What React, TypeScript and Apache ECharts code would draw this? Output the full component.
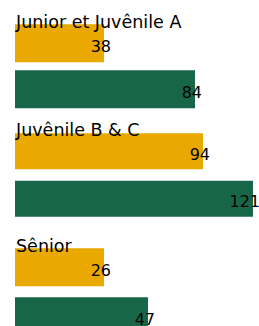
import React, { useEffect, useRef } from "react";
import * as echarts from "echarts";

// Group names (one per pair of bars)
const categories = ["Junior et Juvênile A", "Juvênile B & C", "Sênior"];
// Values printed on the bars
const yellowLabels = [38, 94, 26];
const greenLabels = [84, 121, 47];
// Bar lengths as drawn in the reference (same scale for every bar, axis max 240)
const yellowLengths = [89, 188, 89];
const greenLengths = [180, 238, 133];

const YELLOW = "#E9A900";
const GREEN = "#17664A";
const AXIS_MAX = 240;

// The last bar runs past the bottom of the 326px window, so the canvas is taller
const CANVAS_H = 345;

// Layout of the three groups (positions only)
const groupLayout = [
  { top: 20.3, height: 92, barWidth: 38 },
  { top: 127.6, height: 94.8, barWidth: 36 },
  { top: 242.7, height: 98, barWidth: 38 },
];

export default function App() {
  const ref = useRef<HTMLDivElement>(null);

  useEffect(() => {
    if (!ref.current) return;
    const chart = echarts.init(ref.current, null, { renderer: "svg" });

    const grid = groupLayout.map((g) => ({
      left: 15,
      width: AXIS_MAX,
      top: g.top,
      height: g.height,
      containLabel: false,
    }));

    const xAxis = groupLayout.map((_, i) => ({
      type: "value",
      gridIndex: i,
      min: 0,
      max: AXIS_MAX,
      show: false,
    }));

    const yAxis = groupLayout.map((_, i) => ({
      type: "category",
      gridIndex: i,
      inverse: true,
      data: [categories[i], ""],
      z: 10,
      axisLine: { show: false },
      axisTick: { show: false },
      splitLine: { show: false },
      axisLabel: {
        inside: true,
        interval: 0,
        margin: 1,
        color: "#000",
        fontFamily: "DejaVu Sans",
        fontSize: 17.5,
        verticalAlign: "bottom",
        padding: [0, 0, 12, 0],
      },
    }));

    const series = groupLayout.map((g, i) => ({
      type: "bar",
      xAxisIndex: i,
      yAxisIndex: i,
      barWidth: g.barWidth,
      z: 2,
      data: [
        { value: yellowLengths[i], itemStyle: { color: YELLOW } },
        { value: greenLengths[i], itemStyle: { color: GREEN } },
      ],
      label: {
        show: true,
        position: "insideRight",
        distance: 0,
        offset: [7, 3],
        color: "#000",
        fontFamily: "DejaVu Sans",
        fontSize: 16,
        formatter: (p: any) =>
          String(p.dataIndex === 0 ? yellowLabels[i] : greenLabels[i]),
      },
    }));

    chart.setOption({
      animation: false,
      backgroundColor: "#fff",
      grid,
      xAxis,
      yAxis,
      series,
    });

    return () => chart.dispose();
  }, []);

  return (
    <div
      ref={ref}
      style={{ position: "fixed", left: 0, top: 0, width: 259, height: CANVAS_H }}
    />
  );
}
